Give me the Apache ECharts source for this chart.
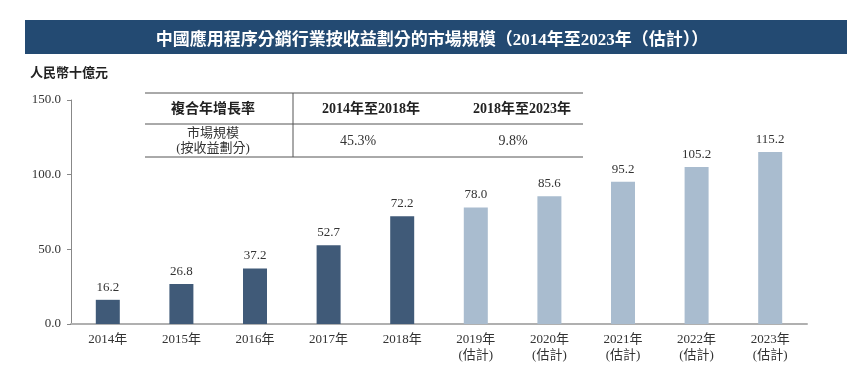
<!DOCTYPE html>
<html>
<head>
<meta charset="utf-8">
<script src="https://cdn.jsdelivr.net/npm/echarts@6/dist/echarts.min.js"></script>
<style>
  html, body { margin: 0; padding: 0; background: #fff; }
  #chart { width: 864px; height: 375px; }
</style>
</head>
<body>
<div id="chart"></div>
<script>
// data
const years = ['2014年', '2015年', '2016年', '2017年', '2018年', '2019年\n(估計)', '2020年\n(估計)', '2021年\n(估計)', '2022年\n(估計)', '2023年\n(估計)']
const marketSize = [16.2, 26.8, 37.2, 52.7, 72.2, 78.0, 85.6, 95.2, 105.2, 115.2]
const forecastFrom = 5
const yTicks = [0, 50, 150]
const cagrHeader = ['複合年增長率', '2014年至2018年', '2018年至2023年']
const cagrRow = ['市場規模\n(按收益劃分)', '45.3%', '9.8%']

const FONT = '"Liberation Serif", "Noto Sans CJK TC", serif'
const DARK = '#405a78'
const LIGHT = '#a9bccf'

const chart = echarts.init(document.getElementById('chart'))

const tableGraphic = [
  { type: 'line', shape: { x1: 145, y1: 93, x2: 583, y2: 93 }, style: { stroke: '#555', lineWidth: 1 } },
  { type: 'line', shape: { x1: 145, y1: 124, x2: 583, y2: 124 }, style: { stroke: '#555', lineWidth: 1 } },
  { type: 'line', shape: { x1: 145, y1: 157, x2: 583, y2: 157 }, style: { stroke: '#555', lineWidth: 1 } },
  { type: 'line', shape: { x1: 293, y1: 93, x2: 293, y2: 157 }, style: { stroke: '#555', lineWidth: 1 } },
  { type: 'text', x: 213, y: 109, style: { text: cagrHeader[0], font: 'bold 14px ' + FONT, fill: '#222', align: 'center', verticalAlign: 'middle' } },
  { type: 'text', x: 371, y: 109, style: { text: cagrHeader[1], font: 'bold 14px ' + FONT, fill: '#222', align: 'center', verticalAlign: 'middle' } },
  { type: 'text', x: 522, y: 109, style: { text: cagrHeader[2], font: 'bold 14px ' + FONT, fill: '#222', align: 'center', verticalAlign: 'middle' } },
  { type: 'text', x: 213, y: 141, style: { text: cagrRow[0], font: '13px ' + FONT, fill: '#333', align: 'center', verticalAlign: 'middle', lineHeight: 15 } },
  { type: 'text', x: 358, y: 141, style: { text: cagrRow[1], font: '14px ' + FONT, fill: '#333', align: 'center', verticalAlign: 'middle' } },
  { type: 'text', x: 513, y: 141, style: { text: cagrRow[2], font: '14px ' + FONT, fill: '#333', align: 'center', verticalAlign: 'middle' } }
]

const option = {
  animation: false,
  textStyle: { fontFamily: FONT },
  title: {
    text: '中國應用程序分銷行業按收益劃分的市場規模（2014年至2023年（估計））',
    left: 'center',
    top: 27,
    textStyle: { color: '#fff', fontSize: 17, fontWeight: 'bold', fontFamily: FONT }
  },
  graphic: [
    { type: 'rect', z: -1, shape: { x: 25, y: 20, width: 822, height: 34 }, style: { fill: '#234a72' } },
    { type: 'text', left: 30, top: 67, style: { text: '人民幣十億元', font: 'bold 13px ' + FONT, fill: '#222' } },
    ...tableGraphic
  ],
  grid: { left: 71, right: 57, top: 100, bottom: 51 },
  xAxis: {
    type: 'category',
    data: years,
    axisLine: { lineStyle: { color: '#b0b0b0', width: 2 } },
    axisTick: { show: false },
    axisLabel: { color: '#333', fontSize: 13, margin: 8, lineHeight: 16, fontFamily: FONT }
  },
  yAxis: {
    type: 'value',
    min: 0,
    max: 150,
    interval: 50,
    axisLine: { show: true, lineStyle: { color: '#888' } },
    axisTick: { show: true, inside: false, length: 4, lineStyle: { color: '#888' } },
    splitLine: { show: false },
    axisLabel: {
      color: '#333',
      fontSize: 13,
      margin: 10,
      fontFamily: FONT,
      formatter: v => v.toFixed(1)
    }
  },
  series: [{
    type: 'bar',
    barWidth: 24,
    data: marketSize.map((v, i) => ({ value: v, itemStyle: { color: i < forecastFrom ? DARK : LIGHT } })),
    label: {
      show: true,
      position: 'top',
      distance: 6,
      color: '#333',
      fontSize: 13,
      fontFamily: FONT,
      formatter: p => p.value.toFixed(1)
    }
  }]
}

chart.setOption(option)
</script>
</body>
</html>
